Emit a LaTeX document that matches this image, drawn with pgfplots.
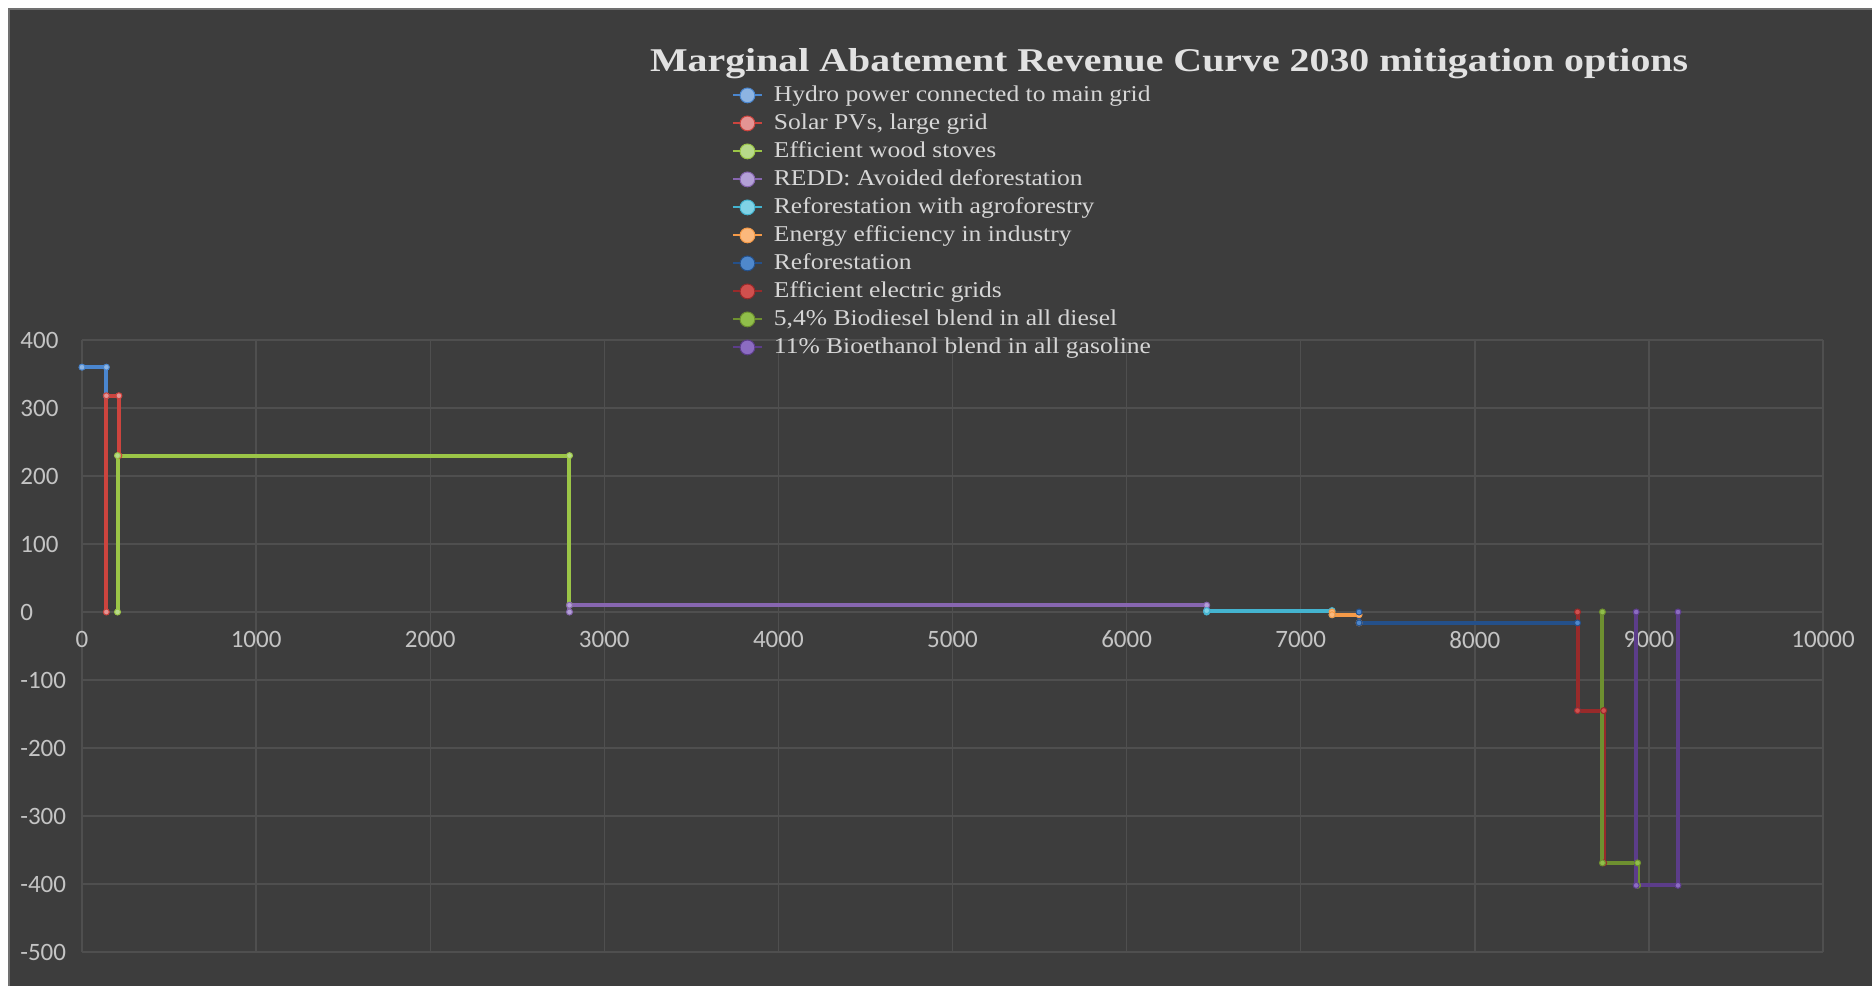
\documentclass[border=0pt]{standalone}
\usepackage{pgfplots}
\pgfplotsset{compat=1.18}
\usepackage{fontspec}
\setmainfont{Liberation Serif}
\newfontfamily\tickfont{Carlito}
\newfontfamily\titlefont[FakeStretch=1.2]{Liberation Serif}
\newfontfamily\legfont[FakeStretch=1.13]{Liberation Serif}
\definecolor{bg}{HTML}{3D3D3D}
\definecolor{framegray}{HTML}{707070}
\definecolor{gridc}{HTML}{4F4F4F}
\definecolor{zeroc}{HTML}{626262}
\definecolor{tickc}{HTML}{C4C4C4}
\definecolor{legc}{HTML}{D6D6D6}
\definecolor{titlec}{HTML}{E2E2E2}
% line / marker colours
\definecolor{l1}{HTML}{4A86CF}\definecolor{m1}{HTML}{8DB4E2}
\definecolor{l2}{HTML}{CC443E}\definecolor{m2}{HTML}{E49494}
\definecolor{l3}{HTML}{9BC547}\definecolor{m3}{HTML}{B7D98A}
\definecolor{l4}{HTML}{8766B0}\definecolor{m4}{HTML}{B3A0D6}
\definecolor{l5}{HTML}{44B4D0}\definecolor{m5}{HTML}{80D2E6}
\definecolor{l6}{HTML}{F59A48}\definecolor{m6}{HTML}{FBB87C}
\definecolor{l7}{HTML}{24508A}\definecolor{m7}{HTML}{4F88CC}
\definecolor{l8}{HTML}{982A2A}\definecolor{m8}{HTML}{D0504E}
\definecolor{l9}{HTML}{6E9030}\definecolor{m9}{HTML}{90BE4A}
\definecolor{l10}{HTML}{5C3D8A}\definecolor{m10}{HTML}{8C6CC2}
\pgfplotsset{ser/.style 2 args={color=#1, line width=2pt, sharp plot, mark=*, mark size=1.5pt, mark options={fill=#2, draw=#1, line width=0.5pt, solid}}}
\begin{document}
\begin{tikzpicture}
\path[use as bounding box] (0,0) rectangle (936pt,493pt);
\fill[white] (0,0) rectangle (936pt,493pt);
\fill[bg] (4pt,0) rectangle (936pt,489pt);
\draw[framegray, line width=1pt] (4.5pt,0) -- (4.5pt,488.5pt) -- (936pt,488.5pt);
\begin{axis}[
  at={(41pt,17pt)}, anchor=south west, scale only axis,
  width=870.5pt, height=306pt,
  xmin=0, xmax=10000, ymin=-500, ymax=400,
  xtick distance=1000, ytick distance=100,
  grid=major, major grid style={color=gridc, line width=0.7pt},
  axis line style={draw=none}, major tick length=0pt,
  scaled ticks=false,
  /pgf/number format/1000 sep={},
  /pgf/number format/assume math mode=true,
  ticklabel style={font=\tickfont\fontsize{12.5}{14}\selectfont, text=tickc, inner sep=0pt},
  xticklabel style={anchor=center, yshift=156.2pt},
  yticklabel style={anchor=west, xshift=-31pt},
  extra y ticks={0}, extra y tick labels={},
  extra y tick style={grid style={color=zeroc, line width=0.9pt}},
  title={Marginal Abatement Revenue Curve 2030 mitigation options},
  every axis title shift=0pt,
  title style={at={(axis description cs:0.6244,1.4373)}, anchor=south, inner sep=0pt, text depth=0pt,
    font=\titlefont\bfseries\fontsize{16.6}{18}\selectfont, text=titlec},
  legend style={at={(axis description cs:0.3731,1.4183)}, anchor=north west,
    draw=none, fill=none, inner sep=0pt, row sep=3pt, column sep=5.5pt,
    font=\legfont\fontsize{11.3}{13}\selectfont, text=legc,
    nodes={inner sep=0pt, text height=8.5pt, text depth=2.5pt},
    cells={anchor=west}},
  legend image code/.code={\draw[mark repeat=2, mark phase=2, #1, line width=1pt, mark size=3.7pt] plot coordinates {(0pt,0pt) (7.25pt,0pt) (14.5pt,0pt)};},
]
\addplot[ser={l1}{m1}] coordinates {(0,360) (140,360) (140,318)};
\addlegendentry{Hydro power connected to main grid}
\addplot[ser={l2}{m2}] coordinates {(140,0) (140,318) (212,318) (212,230)};
\addlegendentry{Solar PVs, large grid}
\addplot[ser={l3}{m3}] coordinates {(204,0) (204,230) (2800,230) (2800,10)};
\addlegendentry{Efficient wood stoves}
\addplot[ser={l4}{m4}] coordinates {(2800,0) (2800,10) (6460,10) (6460,2)};
\addlegendentry{REDD: Avoided deforestation}
\addplot[ser={l5}{m5}] coordinates {(6460,0) (6460,2) (7180,2) (7180,-4)};
\addlegendentry{Reforestation with agroforestry}
\addplot[ser={l6}{m6}] coordinates {(7180,0) (7180,-4) (7335,-4) (7335,-16)};
\addlegendentry{Energy efficiency in industry}
\addplot[ser={l7}{m7}] coordinates {(7335,0) (7335,-16) (8590,-16) (8590,-145)};
\addlegendentry{Reforestation}
\addplot[ser={l8}{m8}] coordinates {(8590,0) (8590,-145) (8740,-145) (8740,-369)};
\addlegendentry{Efficient electric grids}
\addplot[ser={l9}{m9}] coordinates {(8733,0) (8733,-369) (8935,-369) (8935,-402)};
\addlegendentry{5,4\% Biodiesel blend in all  diesel}
\addplot[ser={l10}{m10}] coordinates {(8927,0) (8927,-402) (9167,-402) (9167,0)};
\addlegendentry{11\% Bioethanol blend in all gasoline}
\end{axis}
\end{tikzpicture}
\end{document}
